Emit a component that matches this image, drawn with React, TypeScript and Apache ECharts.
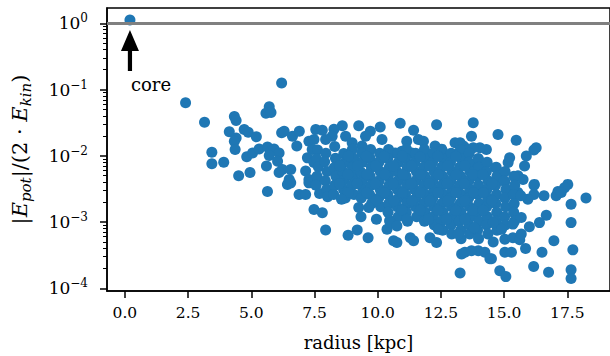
import React, { useEffect, useRef } from 'react';
import * as echarts from 'echarts';

const FONT = '"DejaVu Serif", serif';

// [radius (kpc), |E_pot|/(2 E_kin)]
const corePoint = [[0.2, 1.12]];

const innerPoints = [
  [2.4, 0.063], [3.15, 0.032], [4.33, 0.039], [4.4, 0.034], [6.2, 0.125], [5.71, 0.055], [5.58, 0.044], [5.78, 0.045],
  [4.13, 0.023], [4.72, 0.025], [4.88, 0.0226], [5.2, 0.0194], [4.4, 0.0186], [4.33, 0.0166], [4.36, 0.0124],
  [3.44, 0.0113], [3.44, 0.0076], [3.91, 0.008], [4.82, 0.0097], [5.05, 0.011], [5.31, 0.0127], [5.64, 0.0136],
  [5.78, 0.0117], [5.9, 0.0127], [6.1, 0.011], [5.71, 0.0101], [5.6, 0.007], [6.04, 0.0083], [6.23, 0.0062],
  [6.56, 0.0062], [6.1, 0.0056], [4.5, 0.005], [4.95, 0.0056], [5.64, 0.0029], [6.2, 0.0223], [6.3, 0.0235],
  [6.63, 0.0197], [6.9, 0.0235], [6.8, 0.014], [7.28, 0.0166], [7.48, 0.0176], [7.41, 0.0124], [7.22, 0.0093],
  [7.15, 0.0059], [7.28, 0.0044], [7.48, 0.0079], [6.5, 0.0044], [6.43, 0.0037], [7.55, 0.025], [6.56, 0.0039],
  [6.89, 0.0026], [7.15, 0.0026], [7.28, 0.0039], [7.55, 0.0037], [7.48, 0.00155],
];

const upperPoints = [
  [10.89, 0.031], [12.33, 0.0295], [11.42, 0.0243], [10.1, 0.0272], [9.25, 0.0285], [8.6, 0.0285], [9.71, 0.0235],
  [8.27, 0.0251], [7.81, 0.0243], [8.2, 0.0197], [8.73, 0.0197], [7.94, 0.0176], [8.99, 0.0157], [9.52, 0.0197],
  [10.17, 0.0176], [9.38, 0.014], [11.15, 0.0166], [11.61, 0.0176], [11.81, 0.0166], [12.27, 0.0141], [12.53, 0.0126],
  [13.06, 0.0157], [13.45, 0.0132], [10.69, 0.011], [10.96, 0.0117], [11.35, 0.011],
];

const topRightPoints = [
  [13.78, 0.0316], [14.76, 0.021], [15.48, 0.0172], [13.71, 0.0197], [16.27, 0.0132], [16.18, 0.0122], [15.88, 0.0099],
  [15.22, 0.0093], [15.16, 0.0079], [15.81, 0.007], [14.3, 0.0124], [14.04, 0.0132], [13.78, 0.0132], [13.39, 0.014],
  [13.98, 0.0088], [13.52, 0.0077], [14.66, 0.0066], [14.04, 0.0062], [13.78, 0.0065], [15.55, 0.005], [15.75, 0.0044],
  [16.18, 0.0036], [15.03, 0.0041], [15.35, 0.0031], [15.55, 0.0028], [13.26, 0.0157],
];

const clusterPoints = [
  [7.62, 0.0122], [7.58, 0.009], [7.65, 0.0068], [7.6, 0.0049], [7.56, 0.0036], [7.7, 0.0027],
  [7.95, 0.0109], [7.9, 0.0081], [8.0, 0.0058], [7.93, 0.0042], [7.98, 0.0031], [8.02, 0.0024],
  [8.3, 0.0138], [8.33, 0.0092], [8.28, 0.0066], [8.35, 0.0049], [8.3, 0.0036], [8.26, 0.0026],
  [8.66, 0.0108], [8.7, 0.0079], [8.62, 0.0058], [8.68, 0.0043], [8.65, 0.0031], [8.72, 0.0023],
  [9.0, 0.0125], [9.05, 0.009], [9.0, 0.0067], [9.03, 0.0049], [8.98, 0.0036], [9.06, 0.0026],
  [9.37, 0.011], [9.4, 0.008], [9.33, 0.0057], [9.38, 0.0042], [9.42, 0.0031], [9.35, 0.0023],
  [9.72, 0.0124], [9.7, 0.0092], [9.75, 0.0067], [9.7, 0.0049], [9.74, 0.0036], [9.68, 0.0026], [9.76, 0.0019],
  [10.08, 0.0109], [10.05, 0.008], [10.1, 0.0058], [10.06, 0.0042], [10.1, 0.0031], [10.04, 0.0023], [10.12, 0.0017],
  [10.43, 0.0124], [10.4, 0.0091], [10.46, 0.0067], [10.42, 0.0049], [10.45, 0.0036], [10.4, 0.0026], [10.44, 0.0019], [10.41, 0.0014], [10.47, 0.00105],
  [10.79, 0.0109], [10.82, 0.008], [10.76, 0.0058], [10.8, 0.0042], [10.78, 0.0031], [10.83, 0.0023], [10.77, 0.0017], [10.81, 0.0012],
  [11.14, 0.0126], [11.1, 0.0091], [11.17, 0.0067], [11.12, 0.0049], [11.15, 0.0036], [11.1, 0.0026], [11.16, 0.0019], [11.13, 0.0014], [11.18, 0.00103],
  [11.5, 0.0109], [11.47, 0.008], [11.53, 0.0058], [11.5, 0.0042], [11.46, 0.0031], [11.52, 0.0023], [11.49, 0.0017], [11.54, 0.0012],
  [11.85, 0.0124], [11.88, 0.0091], [11.82, 0.0067], [11.86, 0.0049], [11.84, 0.0036], [11.89, 0.0026], [11.83, 0.0019], [11.87, 0.0014], [11.85, 0.00103],
  [12.2, 0.0109], [12.17, 0.008], [12.23, 0.0058], [12.19, 0.0042], [12.22, 0.0031], [12.18, 0.0023], [12.21, 0.0017], [12.2, 0.0012], [12.24, 0.0009],
  [12.56, 0.0118], [12.58, 0.0091], [12.53, 0.0067], [12.57, 0.0049], [12.55, 0.0036], [12.6, 0.0026], [12.54, 0.0019], [12.58, 0.0014], [12.52, 0.00103], [12.57, 0.00075],
  [12.91, 0.0109], [12.88, 0.008], [12.94, 0.0058], [12.9, 0.0042], [12.93, 0.0031], [12.89, 0.0023], [12.92, 0.0017], [12.95, 0.0012], [12.9, 0.0009], [12.93, 0.00066],
  [13.27, 0.0122], [13.3, 0.0091], [13.24, 0.0067], [13.28, 0.0049], [13.25, 0.0036], [13.3, 0.0026], [13.26, 0.0019], [13.29, 0.0014], [13.23, 0.00103], [13.28, 0.00075], [13.3, 0.00056],
  [13.62, 0.0109], [13.6, 0.008], [13.65, 0.0058], [13.61, 0.0042], [13.64, 0.0031], [13.6, 0.0023], [13.63, 0.0017], [13.66, 0.0012], [13.61, 0.0009], [13.64, 0.00066],
  [13.98, 0.0091], [14.0, 0.0067], [13.95, 0.0049], [13.99, 0.0036], [13.96, 0.0026], [14.01, 0.0019], [13.97, 0.0014], [14.0, 0.00103], [13.95, 0.00075], [13.99, 0.00056],
  [14.33, 0.008], [14.3, 0.0058], [14.36, 0.0042], [14.32, 0.0031], [14.35, 0.0023], [14.31, 0.0017], [14.34, 0.0012], [14.3, 0.0009], [14.36, 0.00066],
  [14.69, 0.0067], [14.72, 0.0049], [14.66, 0.0036], [14.7, 0.0026], [14.67, 0.0019], [14.71, 0.0014], [14.68, 0.00103], [14.72, 0.00075],
  [15.04, 0.0058], [15.0, 0.0042], [15.07, 0.0031], [15.03, 0.0023], [15.06, 0.0017], [15.02, 0.0012], [15.05, 0.0009],
  [15.39, 0.0049], [15.42, 0.0036], [15.37, 0.0026], [15.4, 0.0019], [15.38, 0.0014], [15.41, 0.00103],
];

const coreFillPoints = [
  [8.5, 0.0071], [8.49, 0.0038],
  [8.84, 0.0099], [8.82, 0.0052], [8.83, 0.0028],
  [9.2, 0.0071], [9.18, 0.0038],
  [9.55, 0.0098], [9.57, 0.0052], [9.56, 0.0028],
  [9.92, 0.0071], [9.91, 0.0038], [9.93, 0.0021],
  [10.26, 0.0098], [10.28, 0.0052], [10.27, 0.0028],
  [10.63, 0.0071], [10.62, 0.0038], [10.64, 0.0021],
  [10.97, 0.0099], [10.99, 0.0052], [10.98, 0.0028], [10.97, 0.0015],
  [11.34, 0.0071], [11.33, 0.0038], [11.35, 0.0021],
  [11.68, 0.0097], [11.7, 0.0052], [11.69, 0.0028], [11.68, 0.0015],
  [12.05, 0.0071], [12.04, 0.0038], [12.06, 0.0021], [12.01, 0.0011],
  [12.38, 0.0098], [12.4, 0.0052], [12.39, 0.0028], [12.38, 0.0015],
  [12.76, 0.0071], [12.75, 0.0038], [12.77, 0.0021], [12.72, 0.0011],
  [13.09, 0.0098], [13.11, 0.0052], [13.1, 0.0028], [13.09, 0.0015],
  [13.45, 0.0071], [13.43, 0.0038], [13.44, 0.0021], [13.45, 0.0011],
  [13.78, 0.0052], [13.79, 0.0028], [13.77, 0.0015], [13.82, 0.00082],
  [14.16, 0.0052], [14.18, 0.0028], [14.17, 0.0015],
  [14.53, 0.0038], [14.52, 0.0021],
];

const lowerPoints = [
  [7.81, 0.00138], [7.94, 0.00076], [8.57, 0.0022], [8.83, 0.00063], [9.19, 0.00076], [9.62, 0.00058], [9.34, 0.0012],
  [9.25, 0.00166], [9.65, 0.00166], [9.95, 0.0011], [10.37, 0.00078], [10.63, 0.00052], [10.76, 0.00049], [11.29, 0.00058],
  [11.42, 0.00052], [12.07, 0.00058], [12.33, 0.00049], [12.4, 0.00078], [13.26, 0.00017], [13.32, 0.00033], [13.19, 0.00066],
  [10.5, 0.00098], [10.76, 0.00087], [11.15, 0.0011],
];

const outerPoints = [
  [18.24, 0.0023], [17.65, 0.00186], [17.52, 0.0037], [17.13, 0.0029], [17.06, 0.0025], [16.58, 0.0025], [16.2, 0.0037],
  [16.67, 0.00127], [16.4, 0.00098], [16.0, 0.00085], [17.65, 0.00098], [16.97, 0.00052], [17.72, 0.00038], [16.5, 0.00035],
  [15.85, 0.0004], [14.57, 0.0005], [15.03, 0.00055], [15.35, 0.00058], [15.62, 0.00054], [15.03, 0.00035], [15.29, 0.00035],
  [14.5, 0.00028], [14.83, 0.000184], [15.07, 0.00015], [16.17, 0.000214], [16.76, 0.000174], [17.65, 0.00019], [17.65, 0.00014],
  [13.98, 0.00037], [14.24, 0.00035], [14.44, 0.00028], [13.45, 0.00035], [13.71, 0.00037], [16.18, 0.0026], [15.94, 0.0022],
  [15.66, 0.0025], [17.39, 0.0033], [17.26, 0.0028], [15.68, 0.00117], [15.35, 0.00093], [14.57, 0.00098], [14.9, 0.00078],
  [15.68, 0.00066],
];

const xTicks = [0, 2.5, 5, 7.5, 10, 12.5, 15, 17.5];
const yMajorTicks = [1e-4, 1e-3, 1e-2, 1e-1, 1];
const yMinorTicks = [
  2e-4, 3e-4, 4e-4, 5e-4, 6e-4, 7e-4, 8e-4, 9e-4,
  2e-3, 3e-3, 4e-3, 5e-3, 6e-3, 7e-3, 8e-3, 9e-3,
  2e-2, 3e-2, 4e-2, 5e-2, 6e-2, 7e-2, 8e-2, 9e-2,
  0.2, 0.3, 0.4, 0.5, 0.6, 0.7, 0.8, 0.9,
];
const referenceLevel = 1;

const X_MIN = -0.708;
const X_MAX = 19.19;
const Y_MIN = 9.1e-5;
const Y_MAX = 1.7;

const allPoints = [
  ...corePoint, ...innerPoints, ...upperPoints, ...topRightPoints, ...clusterPoints, ...coreFillPoints,
  ...lowerPoints, ...outerPoints,
];

function supLabel(v: number) {
  const e = Math.round(Math.log10(v));
  const s = e < 0 ? '\u2212' + -e : String(e);
  return `{b|10}{s|${s}}`;
}

export default function App() {
  const ref = useRef<HTMLDivElement>(null);
  useEffect(() => {
    const chart = echarts.init(ref.current!, null, { renderer: 'svg' });
    const option: any = {
      animation: false,
      backgroundColor: '#fff',
      textStyle: { fontFamily: FONT },
      grid: {
        left: 107, top: 8, width: 506, height: 284,
        show: true, borderColor: '#000', borderWidth: 1.5, backgroundColor: 'transparent',
      },
      xAxis: {
        type: 'value', min: X_MIN, max: X_MAX,
        name: 'radius [kpc]', nameLocation: 'middle', nameGap: 42,
        nameTextStyle: { fontFamily: FONT, fontSize: 18, color: '#000' },
        axisLine: { show: true, onZero: false, lineStyle: { color: '#000', width: 1.5 } },
        axisTick: { show: true, length: 7, lineStyle: { color: '#000', width: 1.5 }, customValues: xTicks },
        axisLabel: {
          customValues: xTicks, margin: 14, color: '#000', fontFamily: FONT, fontSize: 15.5,
          formatter: (v: number) => v.toFixed(1),
        },
        splitLine: { show: false },
      },
      yAxis: [
        {
          type: 'log', logBase: 10, min: Y_MIN, max: Y_MAX, position: 'left',
          name: '{u||}{i|E}{s|pot}{u||/(2 · }{i|E}{s|kin}{u|)}',
          nameLocation: 'middle', nameGap: 74,
          nameTextStyle: {
            color: '#000',
            rich: {
              u: { fontFamily: FONT, fontSize: 21, lineHeight: 27, color: '#000' },
              i: { fontFamily: FONT, fontStyle: 'italic', fontSize: 21, lineHeight: 27, color: '#000' },
              s: { fontFamily: FONT, fontStyle: 'italic', fontSize: 15, lineHeight: 17, verticalAlign: 'bottom', color: '#000' },
            },
          },
          axisLine: { show: true, onZero: false, lineStyle: { color: '#000', width: 1.5 } },
          axisTick: { show: true, length: 7, lineStyle: { color: '#000', width: 1.5 }, customValues: yMajorTicks },
          axisLabel: {
            customValues: yMajorTicks, margin: 19, color: '#000',
            formatter: supLabel,
            rich: {
              b: { fontFamily: FONT, fontSize: 17, lineHeight: 22, color: '#000' },
              s: { fontFamily: FONT, fontSize: 12, lineHeight: 13, verticalAlign: 'top', color: '#000' },
            },
          },
          splitLine: { show: false },
        },
        {
          type: 'log', logBase: 10, min: Y_MIN, max: Y_MAX, position: 'left',
          axisLine: { show: false, onZero: false },
          axisTick: { show: true, length: 4, lineStyle: { color: '#000', width: 1 }, customValues: yMinorTicks },
          axisLabel: { show: false },
          splitLine: { show: false },
        },
      ],
      series: [
        {
          type: 'scatter', data: allPoints, symbol: 'circle', symbolSize: 11, z: 2,
          itemStyle: { color: '#1f77b4', opacity: 1 }, silent: true,
        },
        {
          type: 'line', data: [], z: 5, silent: true,
          markLine: {
            silent: true, symbol: ['none', 'none'], label: { show: false },
            lineStyle: { color: '#808080', width: 3, type: 'solid' },
            data: [{ yAxis: referenceLevel }],
          },
        },
      ],
    };
    chart.setOption(option);
    const p = chart.convertToPixel({ xAxisIndex: 0, yAxisIndex: 0 }, corePoint[0]) as number[];
    const cx = p[0];
    const cy = p[1];
    chart.setOption({
      graphic: [
        {
          type: 'polygon', z: 10, silent: true,
          shape: {
            points: [
              [cx, cy + 10], [cx + 9, cy + 31], [cx + 2.1, cy + 31], [cx + 2.1, cy + 51],
              [cx - 2.1, cy + 51], [cx - 2.1, cy + 31], [cx - 9, cy + 31],
            ],
          },
          style: { fill: '#000' },
        },
        {
          type: 'text', z: 10, silent: true, x: cx + 1, y: cy + 55,
          style: { text: 'core', fontFamily: FONT, fontSize: 18, fill: '#000', textAlign: 'left', textVerticalAlign: 'top' },
        },
      ],
    });
    return () => chart.dispose();
  }, []);
  return <div ref={ref} style={{ position: 'fixed', left: 0, top: 0, width: 610, height: 356, background: '#fff' }} />;
}
